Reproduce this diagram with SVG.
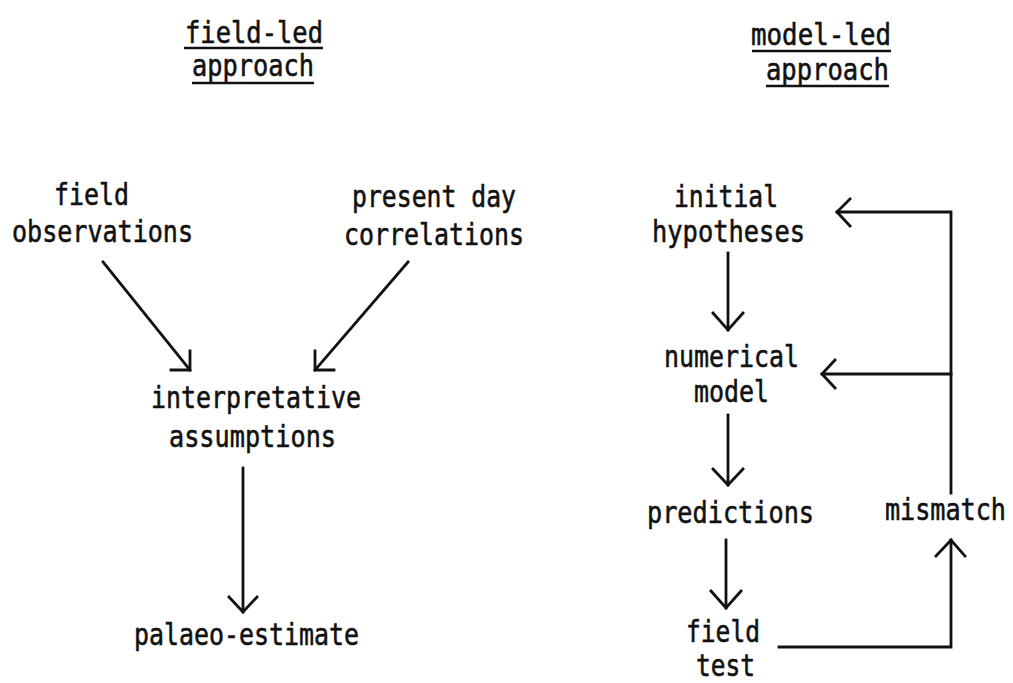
<svg xmlns="http://www.w3.org/2000/svg" width="1013" height="683" viewBox="0 0 1013 683">
<style>
  text { font-family: "DejaVu Sans Mono", "Liberation Mono", monospace; font-size: 31px; fill: #111; stroke: #111; stroke-width: 0.6; }
  .c { fill: none; stroke: #111; stroke-width: 2.8; stroke-linecap: square; stroke-linejoin: miter; }
  .u { stroke: #111; stroke-width: 2.4; }
</style>
<rect width="1013" height="683" fill="#ffffff"/>

<g id="title-field-led">
  <text x="185" y="43" textLength="138" lengthAdjust="spacingAndGlyphs">field-led</text>
  <text x="192" y="76" textLength="122" lengthAdjust="spacingAndGlyphs">approach</text>
  <line class="u" x1="184" y1="48" x2="323" y2="48"/>
  <line class="u" x1="192" y1="83" x2="314" y2="83"/>
</g>
<g id="title-model-led">
  <text x="751" y="45" textLength="140" lengthAdjust="spacingAndGlyphs">model-led</text>
  <text x="766" y="80" textLength="123" lengthAdjust="spacingAndGlyphs">approach</text>
  <line class="u" x1="752" y1="51" x2="891" y2="51"/>
  <line class="u" x1="766" y1="86" x2="889" y2="86"/>
</g>

<g id="node-field-observations">
  <text x="54" y="205" textLength="75" lengthAdjust="spacingAndGlyphs">field</text>
  <text x="12" y="242" textLength="181" lengthAdjust="spacingAndGlyphs">observations</text>
</g>
<g id="node-present-day">
  <text x="352" y="207" textLength="164" lengthAdjust="spacingAndGlyphs">present day</text>
  <text x="344" y="245" textLength="180" lengthAdjust="spacingAndGlyphs">correlations</text>
</g>
<g id="node-interpretative">
  <text x="151" y="408" textLength="210" lengthAdjust="spacingAndGlyphs">interpretative</text>
  <text x="169" y="447" textLength="167" lengthAdjust="spacingAndGlyphs">assumptions</text>
</g>
<g id="node-palaeo">
  <text x="134" y="645" textLength="225" lengthAdjust="spacingAndGlyphs">palaeo-estimate</text>
</g>

<g id="node-initial">
  <text x="674" y="207" textLength="104" lengthAdjust="spacingAndGlyphs">initial</text>
  <text x="652" y="242" textLength="153" lengthAdjust="spacingAndGlyphs">hypotheses</text>
</g>
<g id="node-numerical">
  <text x="664" y="367" textLength="135" lengthAdjust="spacingAndGlyphs">numerical</text>
  <text x="694" y="402" textLength="75" lengthAdjust="spacingAndGlyphs">model</text>
</g>
<g id="node-predictions">
  <text x="647" y="523" textLength="167" lengthAdjust="spacingAndGlyphs">predictions</text>
</g>
<g id="node-mismatch">
  <text x="885" y="520" textLength="121" lengthAdjust="spacingAndGlyphs">mismatch</text>
</g>
<g id="node-field-test">
  <text x="686" y="642" textLength="74" lengthAdjust="spacingAndGlyphs">field</text>
  <text x="696" y="676" textLength="59" lengthAdjust="spacingAndGlyphs">test</text>
</g>

<g id="connectors">
  <path class="c" d="M103,262 L190,370"/>
  <path class="c" d="M190,351 L190,370 L171,370"/>
  <path class="c" d="M408,262 L315,370"/>
  <path class="c" d="M315,351 L315,370 L334,370"/>
  <path class="c" d="M243,468 L243,612"/>
  <path class="c" d="M229,597 L243,612 L257,597"/>

  <path class="c" d="M728,253 L728,330"/>
  <path class="c" d="M713,313 L728,330 L743,313"/>
  <path class="c" d="M728,415 L728,485"/>
  <path class="c" d="M713,469 L728,485 L743,469"/>
  <path class="c" d="M726,540 L726,608"/>
  <path class="c" d="M711,591 L726,608 L741,591"/>

  <path class="c" d="M779,647 L951,647 L951,540"/>
  <path class="c" d="M936,556 L951,540 L965,556"/>
  <path class="c" d="M951,493 L951,212 L837,212"/>
  <path class="c" d="M850,199 L837,212 L850,226"/>
  <path class="c" d="M951,374 L822,374"/>
  <path class="c" d="M835,360 L822,374 L835,388"/>
</g>
</svg>
